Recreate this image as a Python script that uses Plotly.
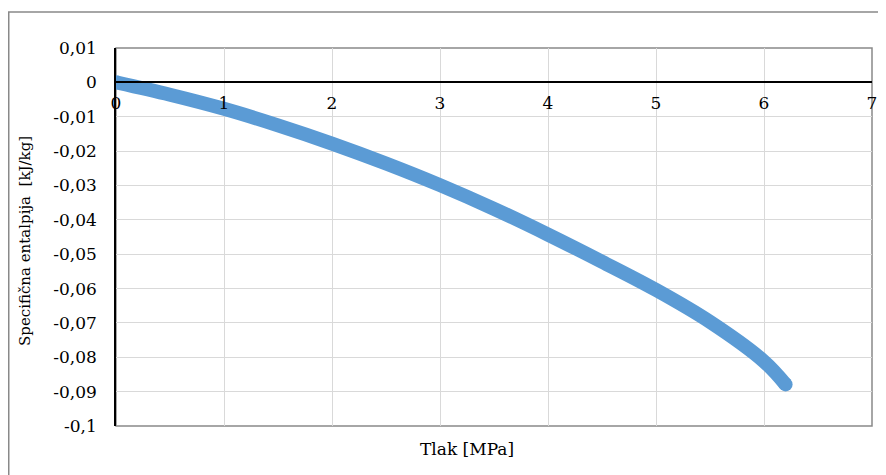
import plotly.graph_objects as go

# Tlak [MPa] vs specificna entalpija [kJ/kg]
tlak = [0, 0.5, 1, 1.5, 2, 2.5, 3, 3.5, 4, 4.5, 5, 5.5, 6, 6.2]
entalpija = [0, -0.0036, -0.0077, -0.0125, -0.0178, -0.0236, -0.0299,
             -0.0368, -0.0443, -0.0522, -0.0604, -0.0697, -0.0812, -0.0879]

x_ticks = [0, 1, 2, 3, 4, 5, 6, 7]
y_ticks = [0.01, 0, -0.01, -0.02, -0.03, -0.04, -0.05, -0.06, -0.07, -0.08, -0.09, -0.1]
y_labels = ["0,01", "0", "-0,01", "-0,02", "-0,03", "-0,04", "-0,05",
            "-0,06", "-0,07", "-0,08", "-0,09", "-0,1"]

blue = "#5B9BD5"
font = dict(family="DejaVu Serif", size=17, color="black")
ytitle_font = dict(family="DejaVu Serif", size=15, color="black")

fig = go.Figure()
fig.add_trace(go.Scatter(
    x=tlak, y=entalpija, mode="lines",
    line=dict(color=blue, width=14, shape="spline", smoothing=1),
    showlegend=False, hoverinfo="x+y",
))
# round ends
fig.add_trace(go.Scatter(
    x=[tlak[0], tlak[-1]], y=[entalpija[0], entalpija[-1]], mode="markers",
    marker=dict(color=blue, size=14), showlegend=False, hoverinfo="skip",
))

# page has an 8px body margin, so the figure sits at (8, 8)
OFF = 8
W, H = 886 - OFF, 475 - OFF
L, R, T, B = 116 - OFF, 14, 48 - OFF, 49
pw, ph = W - L - R, H - T - B


def px(x):
    return (x - OFF - L) / pw


def py(y):
    return (H - B - (y - OFF)) / ph


fig.update_layout(
    width=W, height=H,
    margin=dict(l=L, r=R, t=T, b=B, autoexpand=False),
    paper_bgcolor="white", plot_bgcolor="white",
    font=font,
    xaxis=dict(
        range=[0, 7], tickvals=x_ticks, ticktext=[str(v) for v in x_ticks],
        showgrid=True, gridcolor="#D9D9D9", gridwidth=1,
        zeroline=False, showline=True, linecolor="black", linewidth=1.5,
        anchor="free", position=0.1 / 0.11, automargin=False,
        ticks="", ticklabelstandoff=5, tickfont=font,
    ),
    yaxis=dict(
        range=[-0.1, 0.01], tickvals=y_ticks, ticktext=y_labels,
        showgrid=True, gridcolor="#D9D9D9", gridwidth=1,
        zeroline=False, showline=True, linecolor="black", linewidth=1.5,
        automargin=False,
        ticks="", ticklabelstandoff=14, tickfont=font,
    ),
    shapes=[
        # plot area frame
        dict(type="rect", xref="paper", yref="paper", x0=0, x1=1, y0=0, y1=1,
             line=dict(color="#898989", width=1.5), layer="below"),
        # outer chart border
        dict(type="rect", xref="paper", yref="paper",
             x0=px(OFF + 0.75), x1=px(900), y0=py(490), y1=py(12),
             line=dict(color="#898989", width=1.5), layer="below"),
    ],
    annotations=[
        dict(text="Tlak [MPa]", xref="paper", yref="paper",
             x=px(467), y=py(449), showarrow=False,
             xanchor="center", yanchor="middle", font=font),
        dict(text="Specifična entalpija  [kJ/kg]", xref="paper", yref="paper",
             x=px(25), y=py(241), showarrow=False, textangle=-90,
             xanchor="center", yanchor="middle", font=ytitle_font),
    ],
)

fig.write_html("out.html")
